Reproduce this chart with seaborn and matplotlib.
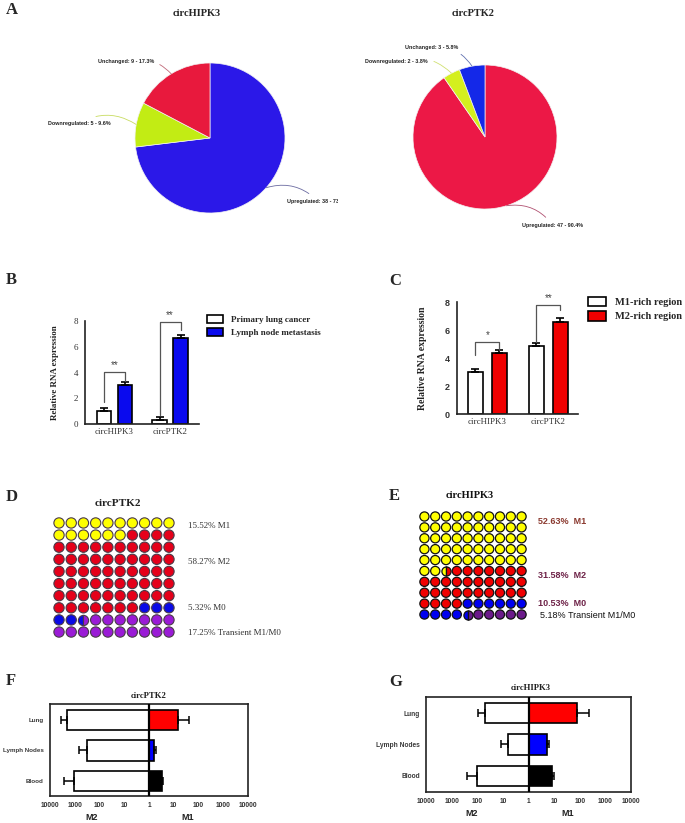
import numpy as np
import pandas as pd
import matplotlib
matplotlib.use('Agg')
import matplotlib.pyplot as plt
import seaborn as sns
from matplotlib.patches import Patch
from matplotlib.transforms import Bbox, TransformedBbox

# ---------------- data ----------------
pie_categories = ['Upregulated', 'Downregulated', 'Unchanged']
hipk3_counts = [38, 5, 9]
ptk2_counts = [47, 2, 3]

genes = ['circHIPK3', 'circPTK2']
b_groups = ['Primary lung cancer', 'Lymph node metastasis']
b_primary = [1.0, 0.3]
b_primary_err = [0.22, 0.22]
b_lymph = [3.0, 6.65]
b_lymph_err = [0.27, 0.27]
b_sig = ['**', '**']

c_groups = ['M1-rich region', 'M2-rich region']
c_m1 = [3.02, 4.86]
c_m1_err = [0.22, 0.2]
c_m2 = [4.33, 6.6]
c_m2_err = [0.24, 0.27]
c_sig = ['*', '**']

d_states = ['M1', 'M2', 'M0', 'M0|T', 'T']
d_counts = [16, 61, 5, 1, 17]
d_labels = ['15.52% M1', '58.27% M2', '5.32% M0', '17.25% Transient M1/M0']

e_states = ['M1', 'M1|M2', 'M2', 'M0', 'M0|T', 'T']
e_counts = [52, 1, 31, 10, 1, 5]
e_labels = ['52.63%  M1', '31.58%  M2', '10.53%  M0', '5.18% Transient M1/M0']

locations = ['Lung', 'Lymph Nodes', 'Blood']
f_m2 = [2000, 330, 1070]
f_m2_hi = [3500, 660, 2600]
f_m1 = [15, 1.6, 3.2]
f_m1_hi = [43, 1.9, 3.8]
g_m2 = [52, 6.5, 100]
g_m2_hi = [92, 12, 245]
g_m1 = [81, 5.1, 8.3]
g_m1_hi = [220, 6.3, 10]
fold_ticks = [10000, 1000, 100, 10, 1, 10, 100, 1000, 10000]

# ---------------- layout helpers ----------------
sns.set_style('white')
plt.rcParams['font.family'] = ['Liberation Sans', 'DejaVu Sans']
SERIF = ['Liberation Serif', 'DejaVu Serif']
SANS = ['Liberation Sans', 'DejaVu Sans']

W, H = 685, 823
fig = plt.figure(figsize=(W / 100, H / 100), dpi=100)


def add_ax(x0, y0, x1, y1):
    return fig.add_axes([x0 / W, 1 - y1 / H, (x1 - x0) / W, (y1 - y0) / H])


def ftext(x, y, s, **kw):
    kw.setdefault('va', 'center')
    return fig.text(x / W, 1 - y / H, s, **kw)


# ---------------- panel letters ----------------
for letter, (x, y) in zip('ABCDEFG', [(6, 10), (6, 280), (389, 281), (6, 497),
                                      (389, 496), (6, 681), (389, 682)]):
    ftext(x, y, letter, family=SERIF, fontweight='bold', fontsize=12, ha='left')


# ---------------- A: pies ----------------
def draw_pie(cx, cy, R, counts, colors, line_colors, text_px, clip_first=False):
    ax = add_ax(cx - R, cy - R, cx + R, cy + R)
    total = sum(counts)
    wedges, _ = ax.pie(counts, colors=colors, startangle=90, counterclock=False,
                       radius=1, wedgeprops=dict(edgecolor='#f2f2f2', linewidth=0.5))
    ax.set_aspect('auto')
    ax.set_xlim(-1, 1)
    ax.set_ylim(-1, 1)
    ax.axis('off')
    for i, (w, cat, n, lc, (px, py, ha)) in enumerate(
            zip(wedges, pie_categories, counts, line_colors, text_px)):
        ang = np.deg2rad((w.theta1 + w.theta2) / 2)
        label = f'{cat}: {n} - {100 * n / total:.1f}%'
        tx, ty = (px - cx) / R, (cy - py) / R
        rad = 0.3 if ha == 'left' else -0.3
        ann = ax.annotate(label, xy=(np.cos(ang), np.sin(ang)), xytext=(tx, ty),
                          ha=ha, va='center', fontsize=3.9, fontweight='bold',
                          family=SANS, color='#222222', annotation_clip=False,
                          arrowprops=dict(arrowstyle='-', color=lc, lw=0.6,
                                          shrinkA=2, shrinkB=0,
                                          connectionstyle=f'arc3,rad={rad}'))
        if clip_first and i == 0:
            ann.set_clip_box(TransformedBbox(Bbox([[0, 0], [338 / W, 1]]), fig.transFigure))
            ann.set_clip_on(True)
    return ax


draw_pie(210, 138, 75, hipk3_counts, ['#2B18E8', '#C2EC14', '#E8193D'],
         ['#6a6aa0', '#c8dc60', '#c06878'],
         [(287, 201, 'left'), (111, 123, 'right'), (154, 61, 'right')], clip_first=True)
draw_pie(485, 137, 72, ptk2_counts, ['#EC1846', '#D4EF1E', '#1428E8'],
         ['#b05070', '#d0e070', '#6070b0'],
         [(522, 225, 'left'), (428, 61, 'right'), (458, 47, 'right')])
ftext(197, 14, 'circHIPK3', family=SERIF, fontweight='bold', fontsize=7.5, ha='center')
ftext(473, 14, 'circPTK2', family=SERIF, fontweight='bold', fontsize=7.5, ha='center')


# ---------------- B / C: bar charts ----------------
def bar_panel(rect, groups, v1, e1, v2, e2, colors, width, gap, xlim, sig,
              brackets, ylab_x, leg_xy, leg_fs, leg_hl, leg_hh, ytick_kw, xtick_fs, ylab_fs):
    ax = add_ax(*rect)
    df = pd.DataFrame({'gene': genes * 2,
                       'group': [groups[0]] * len(genes) + [groups[1]] * len(genes),
                       'value': list(v1) + list(v2)})
    sns.barplot(data=df, x='gene', y='value', hue='group', hue_order=groups,
                palette=colors, edgecolor='black', linewidth=1.2, width=width, gap=gap,
                errorbar=None, legend=False, saturation=1, ax=ax)
    vals = list(v1) + list(v2)
    errs = list(e1) + list(e2)
    centers = {}
    for p in ax.patches:
        if p.get_width() <= 0:
            continue
        h = p.get_height()
        k = int(np.argmin([abs(h - v) for v in vals]))
        xc = p.get_x() + p.get_width() / 2
        centers[k] = xc
        ax.errorbar(xc, h, yerr=[[0], [errs[k]]], fmt='none', ecolor='black',
                    elinewidth=1.2, capsize=2.6, capthick=1.2, zorder=3)
    n = len(genes)
    for gi in range(n):
        l, r, top = brackets[gi]
        x1, x2 = centers[gi], centers[gi + n]
        ax.plot([x1, x1, x2, x2], [l, top, top, r], color='#555555', lw=0.9,
                clip_on=False, zorder=4)
        ax.text((x1 + x2) / 2, top + 0.12, sig[gi], ha='center', va='bottom',
                fontsize=7, color='#444444', family=SANS, clip_on=False)
    ax.set_ylim(0, 8)
    ax.set_yticks([0, 2, 4, 6, 8])
    ax.set_xlim(*xlim)
    sns.despine(ax=ax)
    for s in ['left', 'bottom']:
        ax.spines[s].set_linewidth(1.2)
        ax.spines[s].set_color('#222222')
    ax.tick_params(axis='both', direction='out', length=3, width=1.2, color='#222222', pad=2)
    ax.tick_params(axis='x', length=0, pad=3)
    for t in ax.get_yticklabels():
        t.set(**ytick_kw)
    for t in ax.get_xticklabels():
        t.set(family=SERIF, fontsize=xtick_fs, color='#333333')
    ax.set_xlabel('')
    ax.set_ylabel('Relative RNA expression', family=SERIF, fontweight='bold',
                  fontsize=ylab_fs, color='#222222')
    ax.yaxis.set_label_coords(ylab_x, 0.5)
    handles = [Patch(facecolor=c, edgecolor='black', linewidth=1.2) for c in colors]
    ax.legend(handles, groups, loc='center left',
              bbox_to_anchor=(leg_xy[0] / W, 1 - leg_xy[1] / H), bbox_transform=fig.transFigure,
              frameon=False, prop=dict(family=SERIF, weight='bold', size=leg_fs),
              handlelength=leg_hl, handleheight=leg_hh, handletextpad=0.85,
              labelspacing=0.4, borderpad=0, borderaxespad=0)
    return ax


bar_panel((85, 321, 199, 424), b_groups, b_primary, b_primary_err, b_lymph, b_lymph_err,
          ['white', '#0A0AEE'], 0.76, 0.32, (-0.53, 1.52), b_sig,
          [(1.73, 3.37, 4.06), (0.7, 7.3, 7.95)], -0.23, (207, 326), 6.5, 1.8, 1.1,
          dict(family=SERIF, fontsize=6.5, color='#333333'), 6.5, 6.5)

bar_panel((457, 302, 578, 414), c_groups, c_m1, c_m1_err, c_m2, c_m2_err,
          ['white', '#F00000'], 0.787, 0.37, (-0.5, 1.484), c_sig,
          [(4.2, 4.57, 5.16), (5.16, 7.43, 7.79)], -0.25, (588, 309), 7.5, 1.75, 1.05,
          dict(family=SANS, fontsize=6.5, fontweight='bold', color='#333333'), 6.5, 7)


# ---------------- D / E: dot grids ----------------
def waffle(rect, states, counts, colors, edge, size, lw):
    ax = add_ax(*rect)
    cells = np.repeat(states, counts)
    idx = np.arange(len(cells))
    df = pd.DataFrame({'col': idx % 10, 'row': idx // 10, 'state': cells})
    split = df['state'].str.contains('|', regex=False)
    sns.scatterplot(data=df[~split], x='col', y='row', hue='state', palette=colors,
                    s=size ** 2, edgecolor=edge, linewidth=lw, legend=False, ax=ax)
    for _, r in df[split].iterrows():
        a, b = r['state'].split('|')
        ax.plot(r['col'], r['row'], marker='o', markersize=size, fillstyle='left',
                markerfacecolor=colors[a], markerfacecoloralt=colors[b],
                markeredgecolor=edge, markeredgewidth=lw, linestyle='none')
    ax.set_xlim(-0.55, 9.55)
    ax.set_ylim(9.55, -0.55)
    ax.axis('off')
    return ax


waffle((52.3, 516.3, 175.7, 638.7), d_states, d_counts,
       {'M1': '#FFFF00', 'M2': '#E5001A', 'M0': '#0A0AE6', 'T': '#9A1BD6'},
       '#4a3a48', 7.4, 0.8)
ftext(118, 503, 'circPTK2', family=SERIF, fontweight='bold', fontsize=8, ha='center', color='#222222')
for lab, y in zip(d_labels, [526, 562, 608, 633]):
    ftext(188, y, lab, family=SERIF, fontsize=6.5, color='#333333', ha='left')

waffle((418.5, 510.5, 527.5, 620.5), e_states, e_counts,
       {'M1': '#FFFF00', 'M2': '#F00000', 'M0': '#0000F0', 'T': '#6B1A8A'},
       '#111111', 6.6, 0.9)
ftext(470, 495, 'circHIPK3', family=SERIF, fontweight='bold', fontsize=7.5, ha='center', color='#111111')
for lab, (x, y), col, wt in zip(e_labels, [(538, 521), (538, 576), (538, 603), (540, 615)],
                                ['#8B3A30', '#6E2348', '#6E2348', '#111111'],
                                ['bold', 'bold', 'bold', 'normal']):
    ftext(x, y, lab, family=SANS, fontsize=6.5, color=col, fontweight=wt, ha='left')


# ---------------- F / G: fold-change bars ----------------
def fold_panel(rect, m2, m2_hi, m1, m1_hi, ylim, title, title_xy, m_xy, ytick_fs):
    ax = add_ax(*rect)
    df = pd.DataFrame({'loc': locations, 'm2': -np.log10(m2), 'm1': np.log10(m1)})
    sns.barplot(data=df, y='loc', x='m2', color='white', edgecolor='black', linewidth=1.2,
                width=0.66, orient='h', errorbar=None, saturation=1, ax=ax)
    sns.barplot(data=df, y='loc', x='m1', hue='loc', palette=['#FF0000', '#0000FF', '#000000'],
                edgecolor='black', linewidth=1.2, width=0.66, orient='h', errorbar=None,
                saturation=1, legend=False, ax=ax)
    ypos = np.arange(len(locations))
    lo = np.log10(m2_hi) - np.log10(m2)
    hi = np.log10(m1_hi) - np.log10(m1)
    ax.errorbar(df['m2'], ypos, xerr=[lo, np.zeros_like(lo)], fmt='none', ecolor='black',
                elinewidth=1.1, capsize=3.2, capthick=1.1, zorder=3)
    ax.errorbar(df['m1'], ypos, xerr=[np.zeros_like(hi), hi], fmt='none', ecolor='black',
                elinewidth=1.1, capsize=3.2, capthick=1.1, zorder=3)
    ax.axvline(0, color='black', lw=1.6, zorder=4)
    ax.set_xlim(-4, 4)
    ax.set_xticks(range(-4, 5))
    ax.set_xticklabels([str(t) for t in fold_ticks])
    ax.set_ylim(*ylim)
    for s in ax.spines.values():
        s.set_visible(True)
        s.set_linewidth(1.2)
        s.set_color('#222222')
    ax.tick_params(axis='both', direction='out', length=3, width=1.1, color='#222222', pad=1.5)
    for t in ax.get_yticklabels():
        t.set(family=SANS, fontsize=ytick_fs, fontweight='bold', color='#3a3a3a')
    for t in ax.get_xticklabels():
        t.set(family=SANS, fontsize=4.8, fontweight='bold', color='#333333')
    ax.set_xlabel('')
    ax.set_ylabel('')
    ftext(title_xy[0], title_xy[1], title, family=SERIF, fontweight='bold', fontsize=6.2,
          ha='center', color='#222222')
    for lab, x in zip(['M2', 'M1'], m_xy[:2]):
        ftext(x, m_xy[2], lab, family=SANS, fontweight='bold', fontsize=6.5, ha='center',
              color='#222222')
    return ax


fold_panel((50, 704, 248, 796), f_m2, f_m2_hi, f_m1, f_m1_hi, (2.49, -0.52),
           'circPTK2', (149, 696), (92, 188, 817), 4.5)
fold_panel((426, 697, 631, 792), g_m2, g_m2_hi, g_m1, g_m1_hi, (2.51, -0.51),
           'circHIPK3', (531, 688), (472, 568, 813), 4.8)

fig.savefig('out.png', dpi=100, facecolor='white')
